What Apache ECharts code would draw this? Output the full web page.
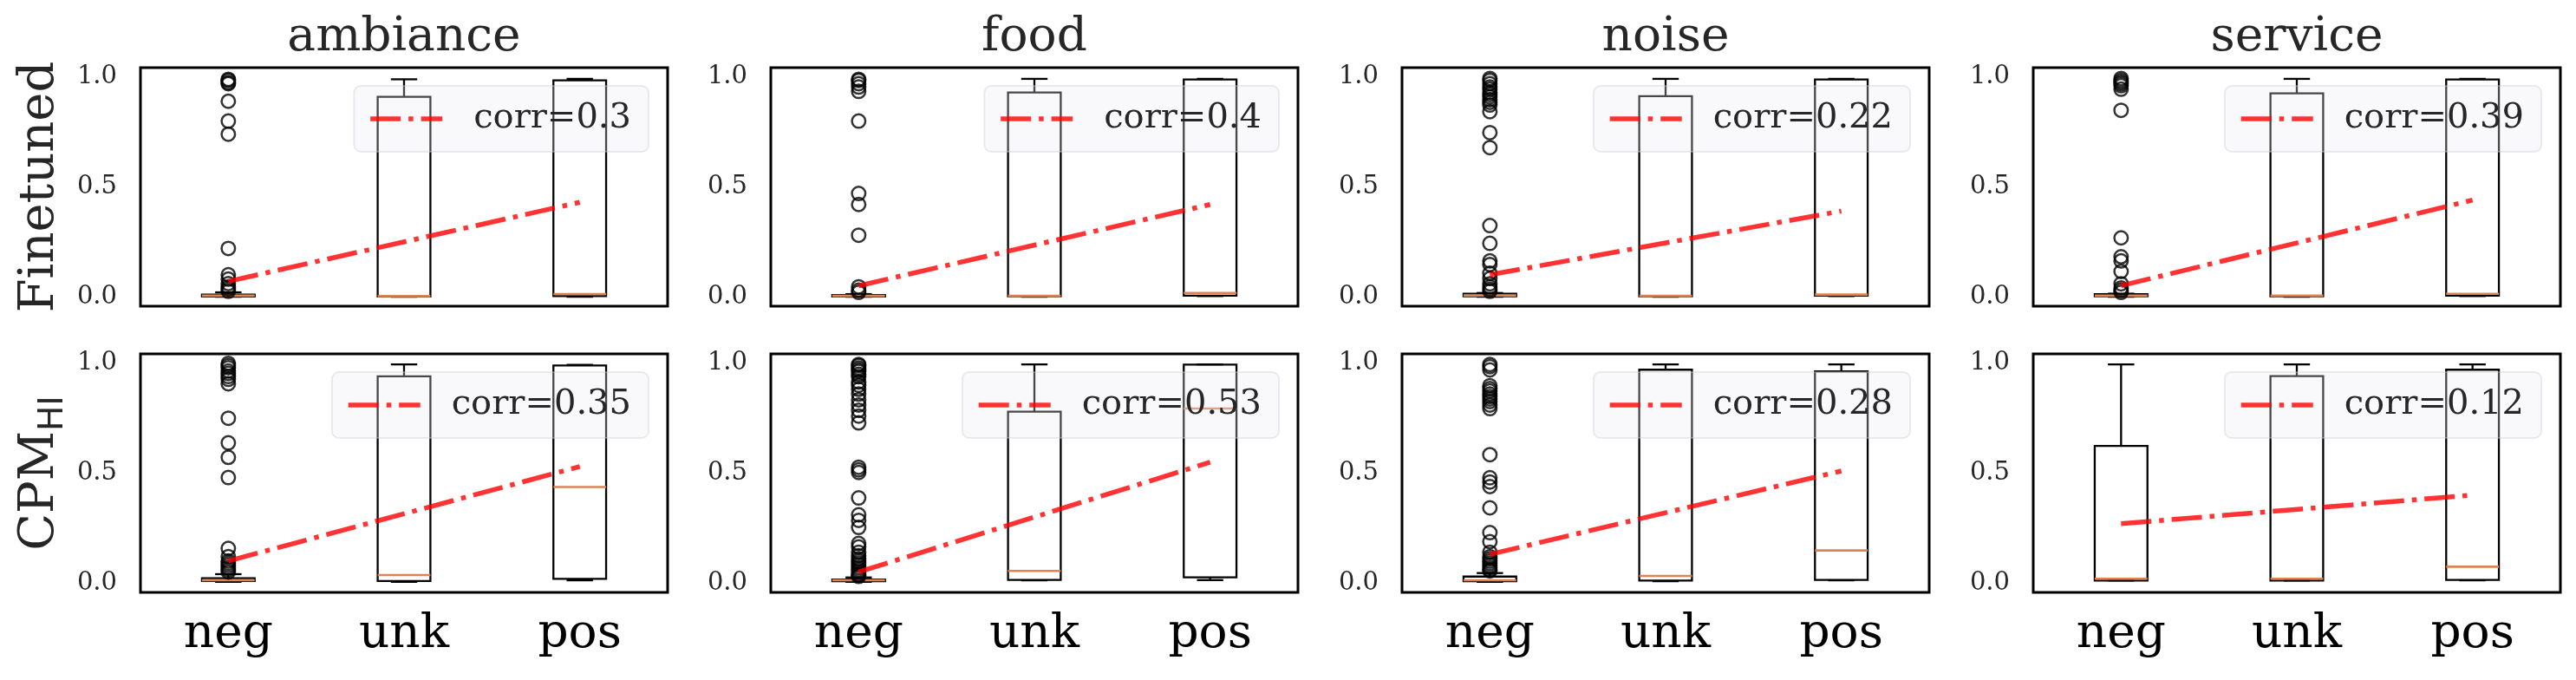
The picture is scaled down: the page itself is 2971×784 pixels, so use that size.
<!DOCTYPE html>
<html>
<head>
<meta charset="utf-8">
<title>corr boxplots</title>
<script src="https://cdn.jsdelivr.net/npm/echarts@6/dist/echarts.min.js"></script>
<style>
  html, body { margin: 0; padding: 0; background: #fff; }
  #chart { width: 2971px; height: 784px; }
</style>
</head>
<body>
<div id="chart"></div>
<script>
const aspects = ['ambiance', 'food', 'noise', 'service'];
const labels = ['neg', 'unk', 'pos'];
const rowNames = ['{a|Finetuned}', '{a|CPM}{b|HI}'];

// [low whisker, q1, median, q3, high whisker] for neg / unk / pos
const boxFinetuned = [
  [[0.0, 0.001, 0.005, 0.01, 0.02], [0.0, 0.001, 0.003, 0.91, 0.99], [0.0, 0.003, 0.012, 0.985, 0.992]],
  [[0.0, 0.001, 0.004, 0.008, 0.012], [0.0, 0.002, 0.004, 0.93, 0.992], [0.003, 0.005, 0.017, 0.989, 0.992]],
  [[0.0, 0.002, 0.006, 0.014, 0.017], [0.0, 0.002, 0.004, 0.913, 0.992], [0.003, 0.005, 0.01, 0.989, 0.992]],
  [[0.0, 0.002, 0.005, 0.012, 0.014], [0.0, 0.002, 0.005, 0.926, 0.992], [0.003, 0.005, 0.013, 0.989, 0.992]]
];
const boxCpm = [
  [[0.005, 0.009, 0.012, 0.022, 0.04], [0.005, 0.009, 0.036, 0.941, 0.995], [0.012, 0.019, 0.437, 0.99, 0.993]],
  [[0.005, 0.008, 0.012, 0.016, 0.025], [0.012, 0.014, 0.055, 0.78, 0.995], [0.013, 0.026, 0.794, 0.994, 0.995]],
  [[0.005, 0.008, 0.012, 0.029, 0.045], [0.008, 0.011, 0.032, 0.971, 0.995], [0.012, 0.014, 0.148, 0.963, 0.995]],
  [[0.011, 0.011, 0.019, 0.624, 0.995], [0.011, 0.011, 0.019, 0.942, 0.995], [0.012, 0.014, 0.074, 0.971, 0.995]]
];

// outliers, all in the neg group
const fliersFinetuned = [
  [0.99, 0.985, 0.975, 0.97, 0.89, 0.80, 0.74, 0.22, 0.10, 0.08, 0.06, 0.045, 0.035, 0.025],
  [0.99, 0.985, 0.97, 0.955, 0.935, 0.80, 0.47, 0.42, 0.28, 0.045, 0.03, 0.02],
  [0.994, 0.985, 0.97, 0.955, 0.945, 0.93, 0.921, 0.91, 0.897, 0.885, 0.873, 0.843, 0.747, 0.679,
   0.324, 0.243, 0.163, 0.147, 0.107, 0.083, 0.059, 0.045, 0.034, 0.025],
  [0.994, 0.985, 0.977, 0.97, 0.961, 0.945, 0.849, 0.268, 0.182, 0.163, 0.115, 0.059, 0.04, 0.03, 0.02]
];
const fliersCpm = [
  [1.0, 0.99, 0.98, 0.965, 0.954, 0.94, 0.927, 0.907, 0.75, 0.638, 0.572, 0.48, 0.157, 0.12, 0.10,
   0.09, 0.08, 0.07, 0.06, 0.05],
  [0.995, 0.99, 0.979, 0.97, 0.963, 0.95, 0.939, 0.915, 0.9, 0.882, 0.86, 0.834, 0.81, 0.786, 0.76,
   0.729, 0.527, 0.515, 0.503, 0.387, 0.31, 0.285, 0.253, 0.18, 0.164, 0.14, 0.124, 0.11, 0.1, 0.09,
   0.08, 0.07, 0.06, 0.05, 0.04, 0.035, 0.03],
  [0.995, 0.985, 0.97, 0.898, 0.885, 0.874, 0.86, 0.849, 0.838, 0.826, 0.81, 0.794, 0.584, 0.479,
   0.46, 0.439, 0.342, 0.229, 0.188, 0.14, 0.12, 0.11, 0.1, 0.09, 0.08, 0.07, 0.06, 0.055],
  []
];

const corrFinetuned = [0.3, 0.4, 0.22, 0.39];
const corrCpm = [0.35, 0.53, 0.28, 0.12];
// fitted line value at neg and at pos
const trendFinetuned = [[0.07, 0.43], [0.05, 0.42], [0.10, 0.39], [0.05, 0.44]];
const trendCpm = [[0.10, 0.53], [0.05, 0.55], [0.13, 0.51], [0.27, 0.40]];

const W = 2971;
const gridLeft = [162, 889, 1617, 2345];
const gridTop = [78, 408];
const gridW = 608, gridH = 275;
const serif = "'DejaVu Serif', serif";
const medianColor = '#dd8452';
const fitColor = 'rgba(255,0,0,0.8)';
const fitDash = [35, 9, 5.5, 9];

function renderBox(params, api) {
  const x = api.value(0);
  const lo = api.coord([x, api.value(1)]);
  const q1 = api.coord([x, api.value(2)]);
  const md = api.coord([x, api.value(3)]);
  const q3 = api.coord([x, api.value(4)]);
  const hi = api.coord([x, api.value(5)]);
  const band = api.size([1, 0])[0];
  const hw = band * 0.15, cw = hw / 2;
  const cx = q1[0];
  const edge = () => ({ stroke: '#000', lineWidth: 2.3, fill: null });
  return {
    type: 'group',
    children: [
      { type: 'line', shape: { x1: cx, y1: q3[1], x2: cx, y2: hi[1] }, style: edge() },
      { type: 'line', shape: { x1: cx, y1: lo[1], x2: cx, y2: q1[1] }, style: edge() },
      { type: 'line', shape: { x1: cx - cw, y1: hi[1], x2: cx + cw, y2: hi[1] }, style: edge() },
      { type: 'line', shape: { x1: cx - cw, y1: lo[1], x2: cx + cw, y2: lo[1] }, style: edge() },
      { type: 'rect', shape: { x: cx - hw, y: q3[1], width: 2 * hw, height: q1[1] - q3[1] }, style: edge() },
      { type: 'line', shape: { x1: cx - hw, y1: md[1], x2: cx + hw, y2: md[1] },
        style: { stroke: medianColor, lineWidth: 2.6 } }
    ]
  };
}

const grid = [], xAxis = [], yAxis = [], legend = [], series = [], title = [];

aspects.forEach((a, c) => {
  title.push({
    text: a, left: gridLeft[c] + gridW / 2, top: 16, textAlign: 'center', padding: 0,
    textStyle: { fontFamily: serif, fontSize: 55, fontWeight: 'normal', color: '#262626' }
  });
});

[0, 1].forEach(r => {
  const boxes = r === 0 ? boxFinetuned : boxCpm;
  const fliers = r === 0 ? fliersFinetuned : fliersCpm;
  const corr = r === 0 ? corrFinetuned : corrCpm;
  const trend = r === 0 ? trendFinetuned : trendCpm;
  aspects.forEach((a, c) => {
    const i = r * 4 + c;
    const name = 'corr=' + corr[c];
    grid.push({
      left: gridLeft[c], top: gridTop[r], width: gridW, height: gridH,
      show: true, borderColor: '#000', borderWidth: 3, backgroundColor: 'transparent'
    });
    xAxis.push({
      gridIndex: i, type: 'category', data: labels, boundaryGap: true,
      axisLine: { show: false }, axisTick: { show: false }, splitLine: { show: false },
      axisLabel: { show: r === 1, fontSize: 55, fontFamily: serif, color: '#000', margin: 21 }
    });
    yAxis.push({
      gridIndex: i, type: 'value', min: -0.043, max: 1.043,
      axisLine: { show: false }, axisTick: { show: false }, splitLine: { show: false },
      axisLabel: {
        fontSize: 29, fontFamily: serif, color: '#262626', margin: 27,
        customValues: [0, 0.5, 1], formatter: v => v.toFixed(1)
      },
      name: c === 0 ? rowNames[r] : '',
      nameLocation: 'middle', nameRotate: 90, nameGap: 81,
      nameTextStyle: {
        color: '#262626',
        rich: {
          a: { fontFamily: serif, fontSize: 56, lineHeight: 70, color: '#262626' },
          b: { fontFamily: "'DejaVu Sans', sans-serif", fontSize: 39, lineHeight: 42,
               verticalAlign: 'bottom', color: '#262626' }
        }
      }
    });
    legend.push({
      data: [name], selectedMode: false, z: 6,
      right: W - (gridLeft[c] + gridW) + 22, top: gridTop[r] + 21,
      padding: [16, 20, 16, 16], itemWidth: 83, itemHeight: 14,
      backgroundColor: 'rgba(234,234,242,0.3)', borderColor: 'rgba(205,205,215,0.4)',
      borderWidth: 2, borderRadius: 8,
      itemStyle: { opacity: 0 },
      lineStyle: { color: fitColor, width: 5.5, type: fitDash, cap: 'butt' },
      textStyle: { fontFamily: serif, fontSize: 40, lineHeight: 44, color: '#262626', padding: [0, 0, 0, 31] }
    });
    series.push({
      type: 'custom', xAxisIndex: i, yAxisIndex: i, silent: true, z: 2,
      renderItem: renderBox,
      encode: { x: 0, y: [1, 2, 3, 4, 5] },
      data: boxes[c].map((b, k) => [k].concat(b))
    });
    series.push({
      type: 'scatter', xAxisIndex: i, yAxisIndex: i, silent: true, z: 3,
      symbol: 'circle', symbolSize: 15.5,
      itemStyle: { color: 'rgba(0,0,0,0)', borderColor: '#000', borderWidth: 2.5 },
      data: fliers[c].map(v => [0, v])
    });
    series.push({
      type: 'line', name: name, xAxisIndex: i, yAxisIndex: i, silent: true, z: 4,
      symbol: 'none',
      itemStyle: { color: fitColor },
      lineStyle: { color: fitColor, width: 5.5, type: fitDash, cap: 'butt' },
      data: [[0, trend[c][0]], [2, trend[c][1]]]
    });
  });
});

const chart = echarts.init(document.getElementById('chart'), null, { renderer: 'canvas' });
chart.setOption({
  animation: false,
  backgroundColor: '#fff',
  title, grid, xAxis, yAxis, legend, series
});
</script>
</body>
</html>
